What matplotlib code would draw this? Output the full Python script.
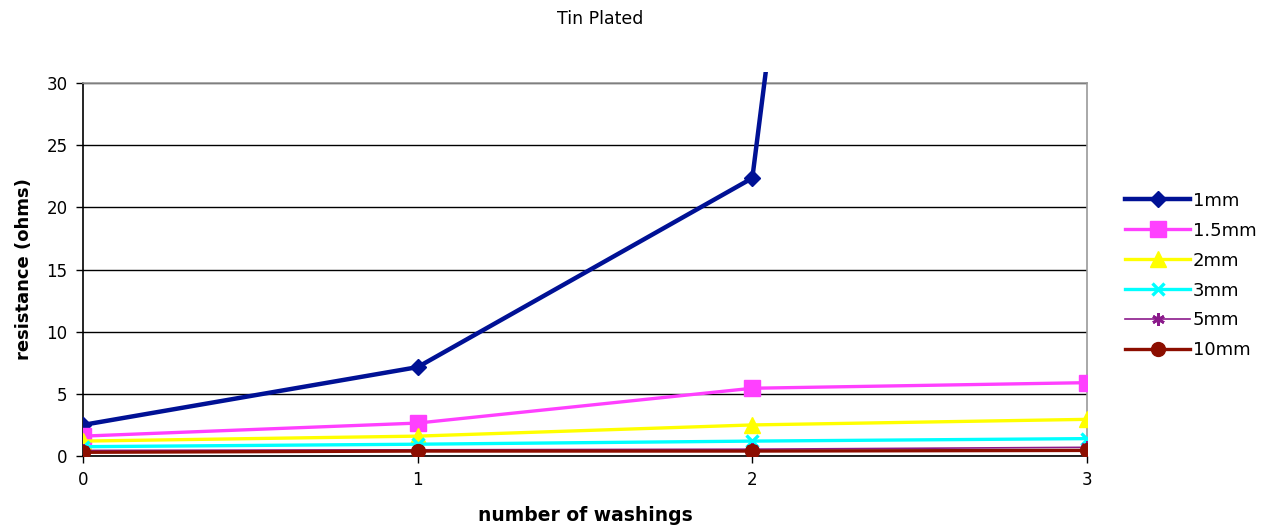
import matplotlib.pyplot as plt
from matplotlib.patches import Rectangle

# 洗濯回数ごとの抵抗値 (ohms)
washings = [0, 1, 2, 3]
series_labels = ["1mm", "1.5mm", "2mm", "3mm", "5mm", "10mm"]
r_1mm = [2.5, 7.15, 22.35, 235.0]
r_1_5mm = [1.6, 2.65, 5.45, 5.9]
r_2mm = [1.2, 1.6, 2.5, 2.95]
r_3mm = [0.75, 0.95, 1.2, 1.4]
r_5mm = [0.45, 0.5, 0.55, 0.7]
r_10mm = [0.3, 0.4, 0.4, 0.45]

series_values = [r_1mm, r_1_5mm, r_2mm, r_3mm, r_5mm, r_10mm]
styles = [
    dict(color="#001195", marker="D", lw=3.2, ms=8.5),
    dict(color="#FF40FF", marker="s", lw=2.4, ms=11),
    dict(color="#FFFF00", marker="^", lw=2.4, ms=11),
    dict(color="#00FFFF", marker="x", lw=2.4, ms=9, mew=2.4),
    dict(color="#8B1A8B", marker=(6, 2, 0), lw=1.2, ms=9, mew=2.0),
    dict(color="#8C0E00", marker="o", lw=2.4, ms=10),
]

plt.rcParams["font.family"] = ["DejaVu Sans"]

fig = plt.figure(figsize=(12.61, 5.31), dpi=100)
ax = fig.add_axes([0.0658, 0.1412, 0.7962, 0.7025])

# 上端から少しはみ出す線用のクリップ領域
clip_rect = Rectangle((0, 0), 1, 1.03, transform=ax.transAxes,
                      facecolor="none", edgecolor="none")

for label, vals, st in zip(series_labels, series_values, styles):
    line, = ax.plot(washings, vals, label=label, color=st["color"],
                    marker=st["marker"], linewidth=st["lw"],
                    markersize=st["ms"], markeredgewidth=st.get("mew", 1.0),
                    markeredgecolor=st["color"], zorder=3)
    line.set_clip_path(clip_rect)

ax.set_xlim(0, 3)
ax.set_ylim(0, 30)
ax.set_xticks(washings)
ax.set_yticks([0, 5, 10, 15, 20, 25, 30])
ax.yaxis.grid(True, color="black", linewidth=1.0)
ax.set_axisbelow(True)

ax.spines["left"].set_color("black")
ax.spines["bottom"].set_color("black")
ax.spines["top"].set_color("#999999")
ax.spines["right"].set_color("#999999")
for s in ax.spines.values():
    s.set_linewidth(1.2)

ax.tick_params(axis="both", direction="out", length=5, width=1,
               labelsize=12, colors="black", pad=6)

ax.set_xlabel("number of washings", fontsize=13.5, fontweight="bold", labelpad=12)
ax.set_ylabel("resistance (ohms)", fontsize=13, fontweight="bold", labelpad=10)
fig.text(0.476, 0.965, "Tin Plated", ha="center", va="center", fontsize=12.5)

fig.legend(loc="center left", bbox_to_anchor=(0.8866, 0.481), frameon=False,
           fontsize=13, handlelength=3.6, handletextpad=0.15,
           labelspacing=0.66, borderaxespad=0)

fig.savefig("out.png", dpi=100)
